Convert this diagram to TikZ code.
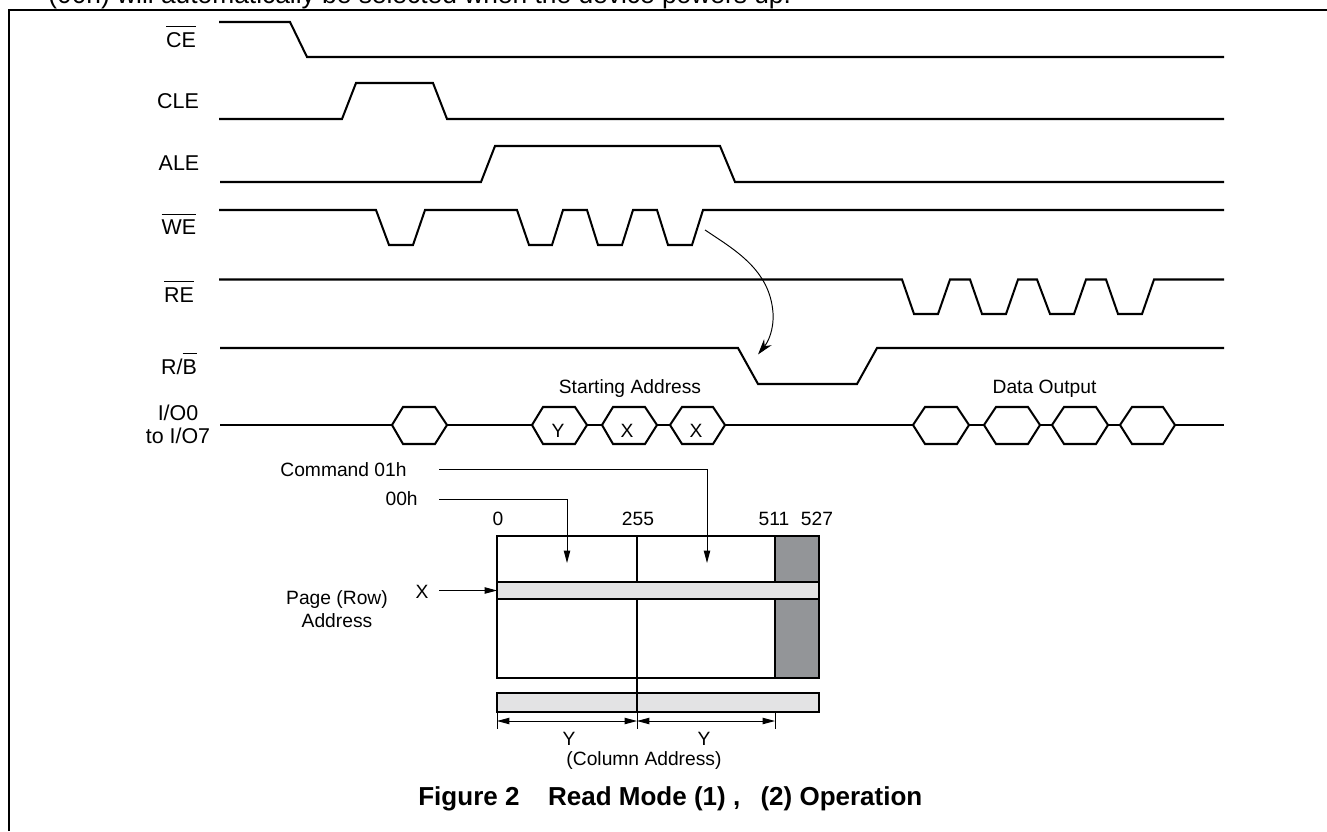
\documentclass[tikz,border=0pt]{standalone}
\usepackage{fontspec}
\setmainfont{Liberation Sans}
\usetikzlibrary{arrows.meta, positioning}
\newcommand{\ovl}[1]{$\overline{\mbox{\rule{0pt}{0.86em}#1}}$}
\definecolor{bandgray}{HTML}{E3E3E4}
\definecolor{sparegray}{HTML}{939598}
\tikzstyle{wave} = [line width=1.15pt, line join=miter]
\tikzstyle{hexcell} = [wave, fill=white]
\tikzstyle{textlabel} = [anchor=base, inner sep=0pt, font=\fontsize{10.95}{13}\selectfont]
\tikzstyle{siglabel} = [anchor=base, inner sep=0pt, font=\fontsize{12.2}{13}\selectfont]
\tikzstyle{twoline} = [anchor=center, align=center, inner sep=0pt, font=\fontsize{10.95}{13}\selectfont]
\tikzstyle{bigline} = [anchor=base west, inner sep=0pt]
\tikzstyle{arrow} = [line width=0.55pt, -{Stealth[length=7pt, width=3.6pt, inset=0pt]}]
\tikzstyle{dim} = [line width=0.55pt, {Stealth[length=7pt, width=3.6pt, inset=0pt]}-{Stealth[length=7pt, width=3.6pt, inset=0pt]}]
\tikzstyle{tick} = [line width=0.55pt]
\tikzstyle{cell} = [rectangle, draw=black, line width=1.15pt, inner sep=0pt, outer sep=0pt]
\begin{document}
\begin{tikzpicture}[x=0.02cm, y=-0.02cm]
        \useasboundingbox (0,0) rectangle (1327,831);

        % Frame and the cut-off line above it
        \draw [line width=1.15pt] (9,831) -- (9,10) -- (1327,10);
        \node (topline) [bigline, font=\fontsize{15}{18}\selectfont] at (48,3.5) {(00h) will automatically be selected when the device powers up.};

        % Signal names
        \node (ce) [siglabel] at (181,47.5) {\ovl{CE}};
        \node (cle) [siglabel] at (178,108.7) {CLE};
        \node (ale) [siglabel] at (179,170.7) {ALE};
        \node (we) [siglabel] at (179,235) {\ovl{WE}};
        \node (re) [siglabel] at (179,302) {\ovl{RE}};
        \node (rb) [siglabel] at (179,374) {R/\ovl{B}};
        \node (io) [twoline, font=\fontsize{12.2}{13}\selectfont] at (178,424) {I/O0\\to I/O7};

        % Waveforms
        \draw [wave] (219,22) -- (290,22) -- (307,57) -- (1224,57);
        \draw [wave] (219,119) -- (342,119) -- (356,83) -- (433,83) -- (447,119) -- (1224,119);
        \draw [wave] (220,182) -- (481,182) -- (495,146) -- (720,146) -- (735,182) -- (1224,182);
        \draw [wave] (219,210) -- (376,210) -- (389,245) -- (413,245) -- (425,210) -- (517,210) -- (529,245) -- (552,245) -- (563,210) -- (587,210) -- (598,245) -- (622,245) -- (633,210) -- (657,210) -- (668,245) -- (692,245) -- (703,210) -- (1224,210);
        \draw [wave] (219,279.5) -- (902,279.5) -- (914,314) -- (938,314) -- (950,279.5) -- (970,279.5) -- (982,314) -- (1006,314) -- (1018,279.5) -- (1037,279.5) -- (1050,314) -- (1074,314) -- (1086,279.5) -- (1106,279.5) -- (1118,314) -- (1142,314) -- (1154,279.5) -- (1224,279.5);
        \draw [wave] (220,348) -- (738,348) -- (758,384) -- (857,384) -- (877,348) -- (1224,348);

        % Data bus
        \draw [wave] (220,425) -- (1224,425);
        \draw [hexcell] (392,425) -- (403,407) -- (435,407) -- (447,425) -- (435,444) -- (403,444) -- cycle;
        \draw [hexcell] (532,425) -- (543,407) -- (575,407) -- (587,425) -- (575,444) -- (543,444) -- cycle;
        \draw [hexcell] (602,425) -- (613,407) -- (645,407) -- (657,425) -- (645,444) -- (613,444) -- cycle;
        \draw [hexcell] (670,425) -- (682,407) -- (713,407) -- (725,425) -- (713,444) -- (682,444) -- cycle;
        \draw [hexcell] (913,425) -- (925,407) -- (957,407) -- (969,425) -- (957,444) -- (925,444) -- cycle;
        \draw [hexcell] (984,425) -- (996,407) -- (1028,407) -- (1040,425) -- (1028,444) -- (996,444) -- cycle;
        \draw [hexcell] (1052,425) -- (1064,407) -- (1096,407) -- (1108,425) -- (1096,444) -- (1064,444) -- cycle;
        \draw [hexcell] (1120,425) -- (1132,407) -- (1163,407) -- (1175,425) -- (1163,444) -- (1132,444) -- cycle;
        \node (ycell) [textlabel] at (558,437) {Y};
        \node (xcella) [textlabel] at (627,437) {X};
        \node (xcellb) [textlabel] at (696,437) {X};
        \node (startaddr) [textlabel] at (630,393) {Starting Address};
        \node (dataout) [textlabel] at (1044.5,393) {Data Output};

        % Curved arrow from WE to R/B
        \coordinate (wefrom) at (705,230);
        \coordinate (rbto) at (758,354.5);
        \draw [line width=0.55pt, -{Stealth[length=9pt, width=5.5pt]}] (wefrom) .. controls (735,250) and (770,270) .. (773,313) .. controls (774,330) and (768,342) .. (rbto);

        % Page array
        \node (array) [cell, fill=white, minimum width=6.44cm, minimum height=2.84cm] at (658,607) {};
        \node (spare) [cell, fill=sparegray, minimum width=0.88cm, minimum height=2.84cm] at (797,607) {};
        \node (colband) [cell, fill=bandgray, minimum width=6.44cm, minimum height=0.38cm] at (658,702.5) {};
        \coordinate (midtop) at (637,536);
        \coordinate (midend) at (637,712);
        \draw [wave] (midtop) -- (midend);
        \node (rowband) [cell, fill=bandgray, minimum width=6.44cm, minimum height=0.34cm] at (658,590.5) {};

        % Column numbers
        \node (col0) [textlabel] at (498,525) {0};
        \node (col255) [textlabel] at (638,525) {255};
        \node (col511) [textlabel] at (774,525) {511};
        \node (col527) [textlabel] at (817,525) {527};

        % Commands and address arrows
        \node (cmd01) [textlabel] at (343.5,476) {Command 01h};
        \node (cmd00) [textlabel, anchor=base east] at (418,505) {00h};
        \node (pagerow) [twoline] at (337,609) {Page (Row)\\Address};
        \node (xaddr) [textlabel] at (422,598) {X};
        \coordinate (cmdfrom) at (439,469);
        \coordinate (cmdbend) at (707,469);
        \coordinate (cmdto) at (707,563);
        \coordinate (zerofrom) at (439,499);
        \coordinate (zerobend) at (567,499);
        \coordinate (zeroto) at (567,563);
        \coordinate (xfrom) at (439,590.5);
        \draw [arrow] (cmdfrom) -- (cmdbend) -- (cmdto);
        \draw [arrow] (zerofrom) -- (zerobend) -- (zeroto);
        \draw [arrow] (xfrom) -- (rowband.west);

        % Column address span
        \coordinate (dimleft) at (497,721);
        \coordinate (dimmid) at (637,721);
        \coordinate (dimright) at (775,721);
        \draw [tick] (497,712) -- (497,729);
        \draw [tick] (637,712) -- (637,729);
        \draw [tick] (775,712) -- (775,729);
        \draw [dim] (dimleft) -- (dimmid);
        \draw [dim] (dimmid) -- (dimright);
        \node (ylefty) [textlabel] at (569,745) {Y};
        \node (yrighty) [textlabel] at (704,745) {Y};
        \node (coladdr) [textlabel] at (644,765) {(Column Address)};

        % Caption
        \node (caption) [bigline, font=\fontsize{14.8}{18}\selectfont\bfseries] at (418,805) {Figure 2\hspace{1.1em}Read Mode (1) ,\hspace{0.78em}(2) Operation};
    \end{tikzpicture}
\end{document}
